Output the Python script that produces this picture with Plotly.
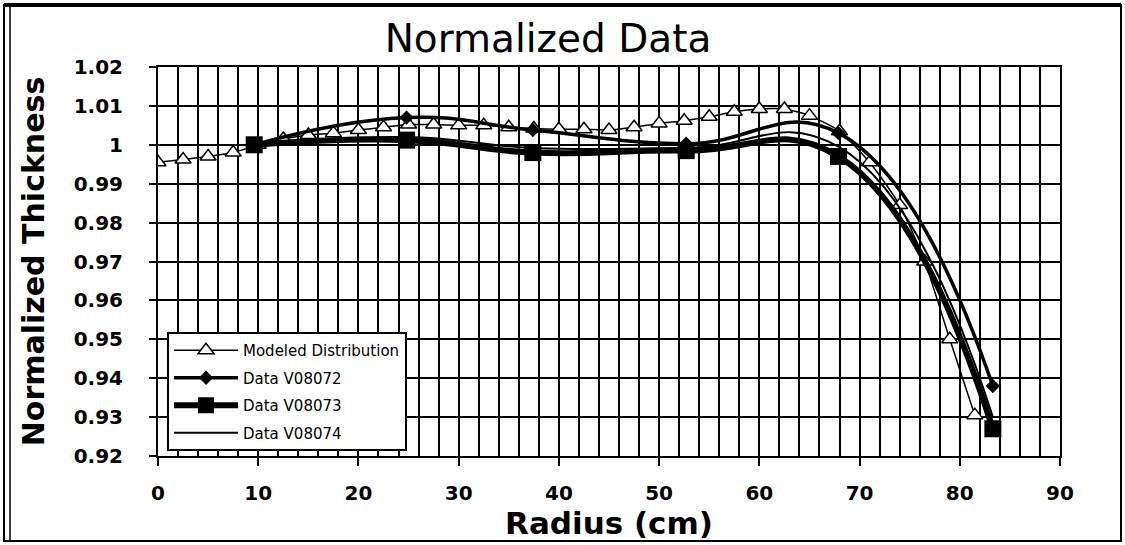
import plotly.graph_objects as go

# ---------------- data ----------------
model_x = [0, 2.5, 5, 7.5, 10, 12.5, 15, 17.5, 20, 22.5, 25, 27.5, 30, 32.5, 35, 37.5,
           40, 42.5, 45, 47.5, 50, 52.5, 55, 57.5, 60, 62.5, 65, 68, 71, 74, 76.5, 79, 81.5]
model_y = [0.9955, 0.9962, 0.9970, 0.9980, 1.0000, 1.0015, 1.0025, 1.0030, 1.0038, 1.0045,
           1.0052, 1.0052, 1.0050, 1.0050, 1.0045, 1.0042, 1.0040, 1.0040, 1.0038, 1.0045,
           1.0055, 1.0062, 1.0072, 1.0085, 1.0092, 1.0092, 1.0075, 1.0035, 0.9955, 0.9845,
           0.9700, 0.9500, 0.9305]

data_x = [9.6, 24.8, 37.4, 52.7, 67.9, 83.3]
v08072_y = [1.0000, 1.0070, 1.0038, 1.0003, 1.0030, 0.9380]
v08073_y = [1.0000, 1.0012, 0.9980, 0.9985, 0.9970, 0.9270]
v08074_y = [1.0000, 1.0020, 0.9992, 0.9992, 0.9995, 0.9300]

x_ticks = [0, 10, 20, 30, 40, 50, 60, 70, 80, 90]
y_ticks = [0.92, 0.93, 0.94, 0.95, 0.96, 0.97, 0.98, 0.99, 1.00, 1.01, 1.02]
y_tick_labels = ["0.92", "0.93", "0.94", "0.95", "0.96", "0.97", "0.98", "0.99", "1", "1.01", "1.02"]

# ---------------- figure ----------------
W, H = 1125, 545
L, R, T, B = 158, 65, 67, 89
PW, PH = W - L - R, H - T - B

def px_x(p):
    return (p - L) / PW

def px_y(p):
    return (H - B - p) / PH

fig = go.Figure()

fig.add_trace(go.Scatter(
    x=model_x, y=model_y, name="Modeled Distribution", mode="lines+markers",
    line=dict(color="black", width=1.5, shape="spline", smoothing=0.6),
    marker=dict(symbol="triangle-up", size=14, color="white", line=dict(color="black", width=1.5)),
    legendgroup="a"))
fig.add_trace(go.Scatter(
    x=data_x, y=v08072_y, name="Data V08072", mode="lines+markers",
    line=dict(color="black", width=3.5, shape="spline", smoothing=1.3),
    marker=dict(symbol="diamond", size=11, color="black"),
    legendgroup="b"))
fig.add_trace(go.Scatter(
    x=data_x, y=v08073_y, name="Data V08073", mode="lines+markers",
    line=dict(color="black", width=6, shape="spline", smoothing=1.3),
    marker=dict(symbol="square", size=17, color="black"),
    legendgroup="c"))
fig.add_trace(go.Scatter(
    x=data_x, y=v08074_y, name="Data V08074", mode="lines",
    line=dict(color="black", width=2, shape="spline", smoothing=1.3),
    legendgroup="d"))

axis_font = dict(family="DejaVu Sans", size=20, color="black", weight="bold")

fig.update_xaxes(
    range=[0, 90], tickvals=x_ticks, ticktext=[str(v) for v in x_ticks],
    ticks="outside", ticklen=8, tickwidth=2, tickcolor="black",
    tickfont=axis_font, ticklabelstandoff=10,
    showgrid=True, gridcolor="black", gridwidth=2.2,
    minor=dict(dtick=2, showgrid=True, gridcolor="black", gridwidth=2.2),
    showline=True, linecolor="black", linewidth=2, mirror=True, zeroline=False,
    title=dict(text="Radius (cm)", font=dict(family="DejaVu Sans", size=31, color="black", weight="bold"), standoff=0),
)
fig.update_yaxes(
    range=[0.92, 1.02], tickvals=y_ticks, ticktext=y_tick_labels,
    ticks="outside", ticklen=7, tickwidth=2, tickcolor="black",
    tickfont=axis_font, ticklabelstandoff=22,
    showgrid=True, gridcolor="black", gridwidth=2.2,
    showline=True, linecolor="black", linewidth=2, mirror=True, zeroline=False,
    title=dict(text="Normalized Thickness", font=dict(family="DejaVu Sans", size=30, color="black", weight="bold"), standoff=20),
)

shapes = [
    dict(type="rect", xref="paper", yref="paper",
         x0=px_x(4), x1=px_x(1121), y0=px_y(541), y1=px_y(5),
         line=dict(color="black", width=2), layer="below"),
    dict(type="line", xref="paper", yref="paper",
         x0=px_x(10), x1=px_x(10), y0=px_y(541), y1=px_y(5),
         line=dict(color="black", width=1.5)),
    dict(type="line", xref="paper", yref="paper",
         x0=px_x(4), x1=px_x(1121), y0=px_y(5), y1=px_y(5),
         line=dict(color="black", width=4)),
]

fig.update_layout(
    width=W, height=H,
    margin=dict(l=L, r=R, t=T, b=B, autoexpand=False),
    paper_bgcolor="white", plot_bgcolor="white",
    font=dict(family="DejaVu Sans", color="black"),
    title=dict(text="Normalized Data", x=548 / W, xanchor="center",
               y=1 - 38 / H, yanchor="middle", yref="container",
               font=dict(family="DejaVu Sans", size=39, color="black")),
    showlegend=True,
    legend=dict(x=px_x(167), y=px_y(332), xanchor="left", yanchor="top",
                bgcolor="white", bordercolor="black", borderwidth=2,
                font=dict(family="DejaVu Sans", size=15, color="black"),
                traceorder="grouped", tracegroupgap=5, itemwidth=64),
    shapes=shapes,
)

fig.write_html("out.html", config={"displayModeBar": False},
               post_script="document.body.style.margin='0';")
